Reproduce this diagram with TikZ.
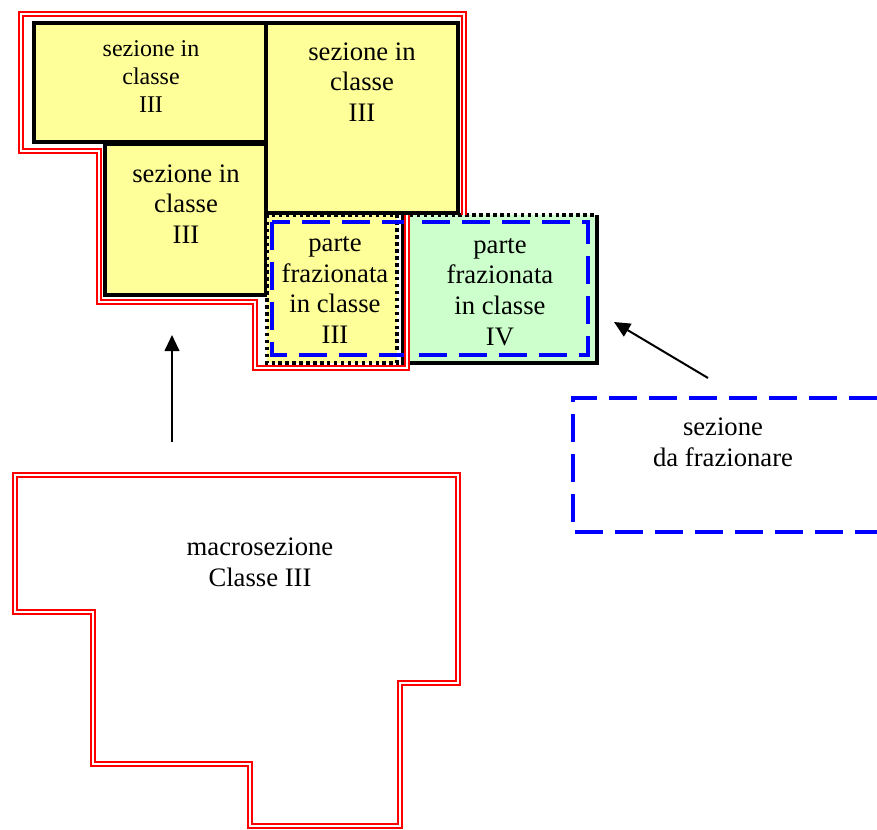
\documentclass[tikz,border=0pt]{standalone}
\usepackage{fontspec}
\setmainfont{Liberation Serif}
\usetikzlibrary{arrows.meta}

\definecolor{giallo}{RGB}{255,255,153}
\definecolor{verde}{RGB}{204,255,204}

\begin{document}
\begin{tikzpicture}[x=0.75pt,y=0.75pt,yscale=-1,xscale=1,
    sezione/.style={fill=giallo,draw=black,line width=2.8pt},
    puntini/.style={draw=black,line width=2.8pt,dash pattern=on 2.6pt off 2.6pt},
    tratteggio/.style={draw=blue,line width=2.8pt,dash pattern=on 21pt off 9pt},
    bordo/.style={draw=red,double=white,double distance=1.5pt,line width=1.5pt},
    freccia/.style={line width=1.5pt,-{Triangle[length=12pt,width=11pt]}},
    testo/.style={align=center,inner sep=0.75pt,font=\fontsize{20}{23}\selectfont}]
        \useasboundingbox (0,0) rectangle (877,830);

        % sezioni in classe III
        \draw [sezione] (34,23) rectangle (266,142);
        \draw [sezione] (266,23) rectangle (458,213);
        \draw [sezione] (105,144) rectangle (266,295);
        % parti frazionate
        \fill [giallo] (267,215) rectangle (397,363);
        \draw [puntini] (267,215) rectangle (397,363);
        \fill [verde] (403,215) rectangle (597,363);
        \draw [line width=2.8pt] (403,215) -- (403,363) -- (597,363) -- (597,215);
        \draw [puntini] (403,215) -- (597,215);
        \draw [tratteggio] (272,222) rectangle (588,355);
        % contorno macrosezione
        \draw [bordo] (407,215) -- (407,368) -- (255,368) -- (255,302) -- (99,302) -- (99,151) -- (21,151) -- (21,14) -- (464,14) -- (464,215);

        \node (secA) at (151,77) [testo,font=\fontsize{18}{21}\selectfont] {sezione in\\classe\\III};
        \node (secB) at (362,82) [testo] {sezione in\\classe\\III};
        \node (secC) at (186,204) [testo] {sezione in\\classe\\III};
        \node (parteIII) at (335,290) [testo] {parte\\frazionata\\in classe\\III};
        \node (parteIV) at (500,292) [testo] {parte\\frazionata\\in classe\\IV};

        % macrosezione
        \draw [bordo] (15,475) -- (458,475) -- (458,683) -- (400,683) -- (400,826) -- (250,826) -- (250,764) -- (93,764) -- (93,612) -- (15,612) -- cycle;
        \node (macro) at (260,562) [testo] {macrosezione\\Classe III};

        % sezione da frazionare
        \draw [tratteggio] (877,398) -- (573,398) -- (573,532) -- (877,532);
        \node (dafraz) at (723,442) [testo] {sezione\\da frazionare};

        \coordinate (codaMacro) at (172,442);
        \coordinate (puntaMacro) at (172,335);
        \coordinate (codaFraz) at (708,378);
        \coordinate (puntaFraz) at (614,322);
        \draw [freccia] (codaMacro) -- (puntaMacro);
        \draw [freccia] (codaFraz) -- (puntaFraz);
\end{tikzpicture}
\end{document}
